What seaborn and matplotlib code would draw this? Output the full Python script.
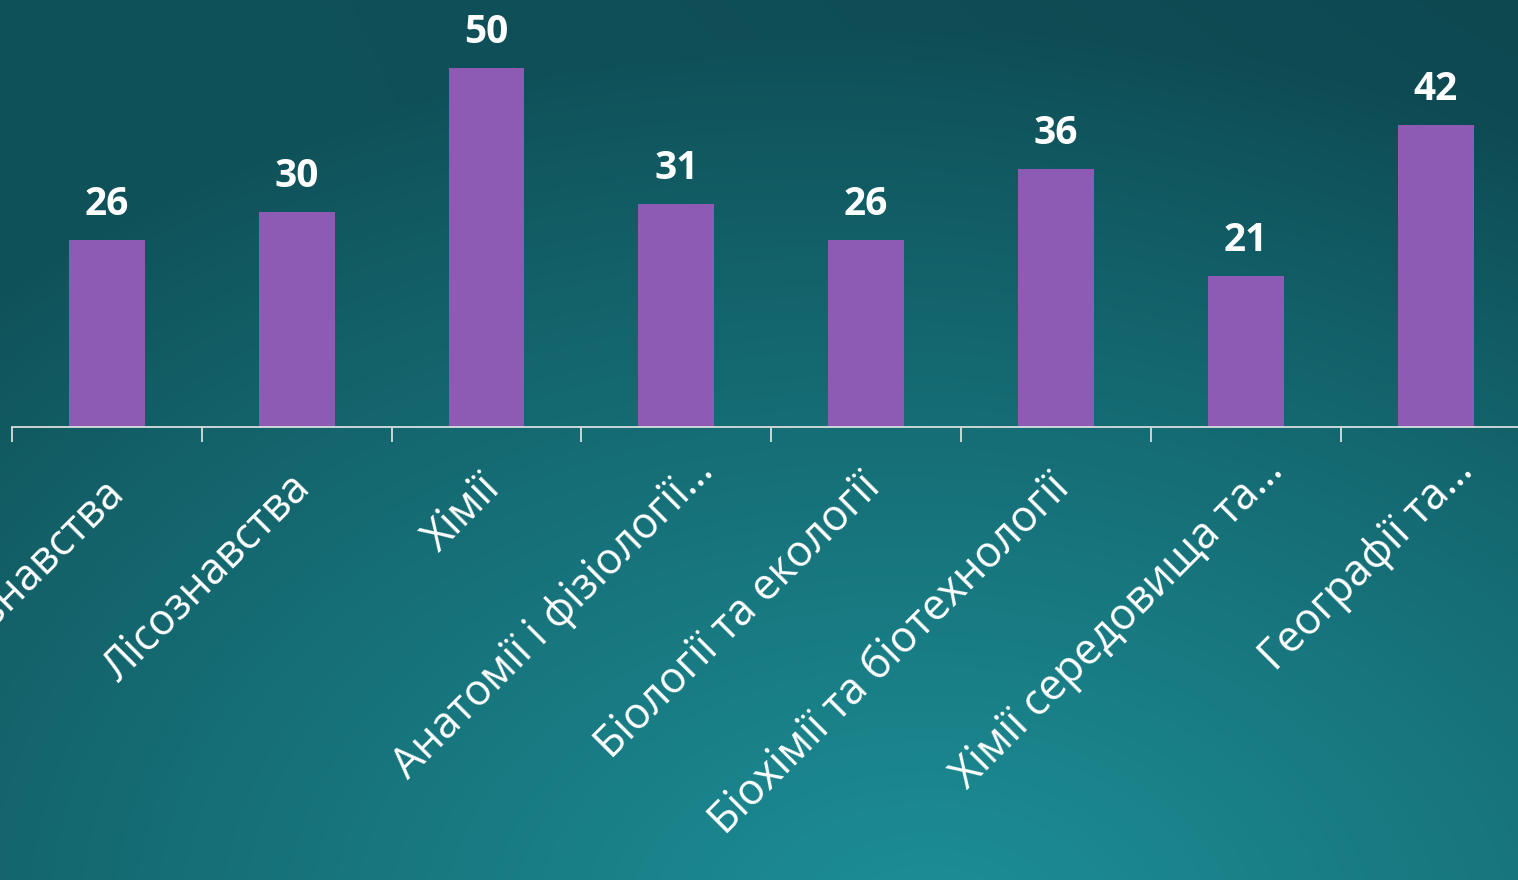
import numpy as np
import pandas as pd
import matplotlib
matplotlib.use("Agg")
import matplotlib.pyplot as plt
import matplotlib.transforms as mtransforms
import seaborn as sns

categories = [
    "Ґрунтознавства",
    "Лісознавства",
    "Хімії",
    "Анатомії і фізіології…",
    "Біології та екології",
    "Біохімії та біотехнології",
    "Хімії середовища та…",
    "Географії та…",
]
values = [26, 30, 50, 31, 26, 36, 21, 42]

BAR_COLOR = "#8d5ab4"
TEXT_COLOR = "white"
AXIS_COLOR = "#d8dede"

sns.set_theme(style="white")
plt.rcParams["font.family"] = ["Open Sans", "DejaVu Sans"]

W, H, DPI = 1518, 880, 100
fig = plt.figure(figsize=(W / DPI, H / DPI), dpi=DPI)

# background gradient
bg = fig.add_axes([0, 0, 1, 1], zorder=0)
yy, xx = np.mgrid[0:H, 0:W]
d = np.sqrt(((xx - 930) / 1300.0) ** 2 + ((yy - 930) / 900.0) ** 2)
t = np.clip(1 - d, 0, 1)
dark = np.array([16, 82, 90]) / 255.0
light = np.array([29, 143, 151]) / 255.0
img = dark + (light - dark) * t[..., None] ** 0.9
tr = np.clip((xx / W) * (1 - yy / H), 0, 1) ** 1.5
img = img - np.array([3, 10, 9])[None, None, :] / 255.0 * tr[..., None]
img = np.clip(img, 0, 1)
bg.imshow(img, extent=[0, W, H, 0], aspect="auto")
bg.set_axis_off()

left = 12 / W
bottom = (H - 427) / H
ymax = 55
px_per_unit = 7.18
height = ymax * px_per_unit / H
ax = fig.add_axes([left, bottom, 1 - left, height], zorder=1)
ax.patch.set_alpha(0)

df = pd.DataFrame({"cat": categories, "val": values})
sns.barplot(data=df, x="cat", y="val", color=BAR_COLOR, saturation=1,
            width=0.4, ax=ax, linewidth=0)

for i, v in enumerate(values):
    ax.annotate(str(v), (i, v), xytext=(0, 18), textcoords="offset points",
                ha="center", va="baseline", fontsize=28, fontweight="bold",
                color=TEXT_COLOR, annotation_clip=False)

for s in ["top", "right", "left"]:
    ax.spines[s].set_visible(False)
ax.spines["bottom"].set_color(AXIS_COLOR)
ax.spines["bottom"].set_linewidth(1.3)
ax.set_yticks([])
ax.set_xlabel("")
ax.set_ylabel("")

ax.set_xticks(range(len(categories)))
ax.set_xticklabels(categories, rotation=45, ha="right", va="top",
                   rotation_mode="anchor", fontsize=31, color=TEXT_COLOR)
ax.tick_params(axis="x", which="major", length=0, pad=33)
ax.set_xticks([i - 0.5 for i in range(len(categories) + 1)], minor=True)
ax.tick_params(axis="x", which="minor", length=11, width=1.3,
               color=AXIS_COLOR, direction="out", bottom=True)

x_right = (W - 107) / 189.8
ax.set_xlim(-0.5, x_right)
ax.set_ylim(0, ymax)

for lab in ax.get_xticklabels():
    if lab.get_text().endswith("…"):
        dx, dy = 11 / 72, 17 / 72
    else:
        dx, dy = -6 / 72, 5 / 72
    lab.set_transform(lab.get_transform() +
                      mtransforms.ScaledTranslation(dx, dy, fig.dpi_scale_trans))

fig.savefig("out.png", dpi=DPI)
